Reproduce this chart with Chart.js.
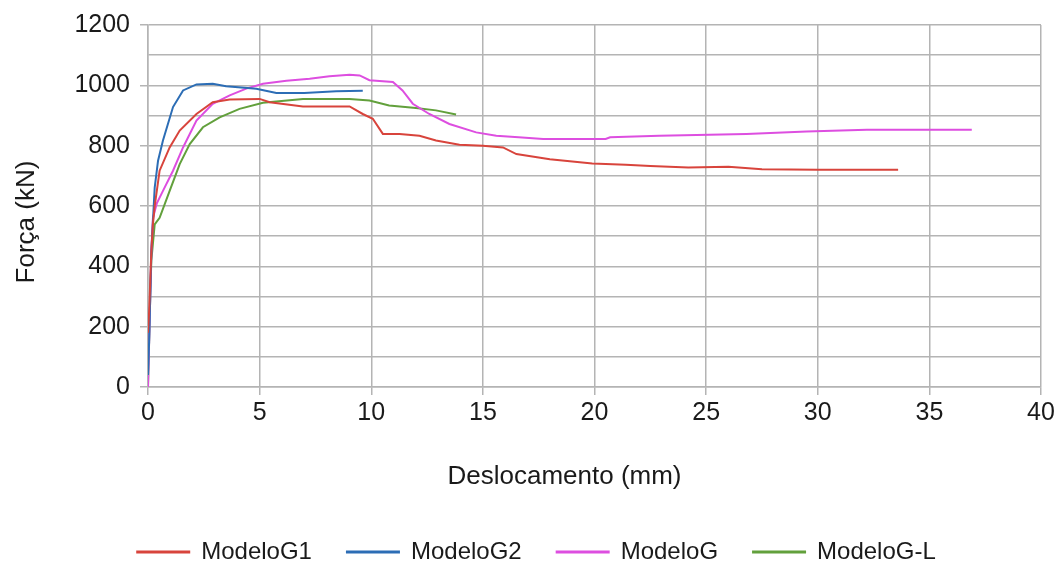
<!DOCTYPE html>
<html>
<head>
<meta charset="utf-8">
<script src="https://cdn.jsdelivr.net/npm/chart.js@4"></script>
<style>
html,body{margin:0;padding:0;background:#fff;}
#wrap{width:1058px;height:562px;}
</style>
</head>
<body>
<div id="wrap"><canvas id="c" width="1058" height="562"></canvas></div>
<script>
const seriesNames = ["ModeloG1", "ModeloG2", "ModeloG", "ModeloG-L"];
const seriesColors = ["#d8443c", "#2c6db5", "#dd4ee0", "#62a03c"];

const g1X = [0, 0.05, 0.1, 0.15, 0.22, 0.3, 0.52, 0.97, 1.42, 2.17, 2.9, 3.66, 5.0, 5.45, 6.94, 9.03, 9.62, 10.07, 10.52, 11.27, 12.16, 12.9, 13.95, 15.0, 15.9, 16.5, 18.0, 19.9, 21.4, 22.5, 24.2, 26.0, 27.5, 30.0, 33.6];
const g1Y = [180, 250, 350, 450, 539, 600, 717, 794, 850, 905, 944, 953, 955, 944, 930, 930, 905, 889, 839, 839, 833, 817, 803, 800, 794, 772, 755, 741, 737, 733, 728, 730, 722, 720, 720];

const g2X = [0, 0.05, 0.1, 0.15, 0.2, 0.3, 0.45, 0.67, 1.12, 1.57, 2.17, 2.9, 3.5, 4.85, 5.75, 7.0, 8.43, 9.62];
const g2Y = [40, 150, 300, 450, 520, 661, 750, 817, 928, 983, 1003, 1005, 997, 989, 975, 975, 980, 982];

const gX = [0, 0.05, 0.1, 0.15, 0.22, 0.4, 0.67, 1.12, 1.57, 2.17, 2.9, 3.66, 4.4, 5.15, 6.2, 7.24, 8.13, 9.03, 9.48, 9.92, 10.97, 11.4, 11.86, 12.6, 13.5, 14.7, 15.6, 16.6, 17.7, 20.5, 20.7, 22.9, 26.8, 29.5, 32.2, 36.9];
const gY = [0, 150, 300, 450, 560, 610, 650, 717, 794, 883, 939, 967, 989, 1005, 1015, 1022, 1030, 1035, 1033, 1017, 1011, 983, 939, 905, 872, 844, 833, 828, 822, 822, 828, 833, 839, 847, 853, 853];

const glX = [0, 0.05, 0.1, 0.15, 0.3, 0.52, 0.97, 1.42, 1.87, 2.46, 3.21, 4.1, 5.15, 6.94, 9.03, 9.92, 10.8, 12.0, 12.9, 13.8];
const glY = [0, 150, 300, 420, 539, 561, 650, 739, 805, 861, 894, 922, 942, 955, 955, 950, 933, 925, 917, 903];

const xTitle = "Deslocamento (mm)";
const yTitle = "Força (kN)";

const allX = [g1X, g2X, gX, glX];
const allY = [g1Y, g2Y, gY, glY];

const datasets = seriesNames.map((name, i) => ({
  label: name,
  data: allX[i].map((x, j) => ({x: x, y: allY[i][j]})),
  borderColor: seriesColors[i],
  backgroundColor: seriesColors[i],
  borderWidth: 2,
  pointRadius: 0,
  tension: 0,
  fill: false
}));

const FONT = "'Liberation Sans', Arial, sans-serif";
const TXT = "#1a1a1a";
const GRID = "#b4b4b4";

const legendShift = {
  id: 'legendShift',
  afterLayout(chart) {
    if (chart.legend) { chart.legend.left += 16; chart.legend.right += 16; }
  }
};

function shiftTitle(scale, dx, dy) {
  if (scale._titleShifted) return;
  const orig = scale.drawTitle;
  scale.drawTitle = function () {
    const ctx = this.ctx;
    ctx.save();
    ctx.translate(dx, dy);
    orig.apply(this, arguments);
    ctx.restore();
  };
  scale._titleShifted = true;
}

new Chart(document.getElementById('c'), {
  type: 'line',
  data: {datasets: datasets},
  plugins: [legendShift],
  options: {
    responsive: false,
    animation: false,
    layout: {padding: {top: 25, right: 17, bottom: -12, left: 0}},
    plugins: {
      tooltip: {enabled: false},
      legend: {
        position: 'bottom',
        labels: {
          boxWidth: 52, boxHeight: 1, padding: 35,
          color: TXT, font: {family: FONT, size: 24}
        }
      }
    },
    scales: {
      x: {
        type: 'linear', min: 0, max: 40,
        ticks: {stepSize: 5, color: TXT, font: {family: FONT, size: 25}, padding: 3, maxRotation: 0, autoSkip: false},
        grid: {color: GRID, lineWidth: 1.5, tickLength: 8, tickColor: GRID},
        border: {color: GRID, width: 1.5},
        title: {display: true, text: xTitle, color: TXT, font: {family: FONT, size: 26}, padding: {top: 0, bottom: 13}},
        afterFit: (s) => { s.height = 118; shiftTitle(s, -30, 0); }
      },
      y: {
        type: 'linear', min: 0, max: 1200,
        ticks: {stepSize: 100, color: TXT, font: {family: FONT, size: 25}, padding: 10, autoSkip: false,
          callback: (v) => (v % 200 === 0 ? v : '')},
        grid: {color: GRID, lineWidth: 1.5, tickLength: 8,
          tickColor: (ctx) => (ctx.tick && ctx.tick.value % 200 === 0 ? GRID : 'rgba(0,0,0,0)')},
        border: {color: GRID, width: 1.5},
        title: {display: true, text: yTitle, color: TXT, font: {family: FONT, size: 26}, padding: {top: 11, bottom: 0}},
        afterFit: (s) => { s.width = 148; shiftTitle(s, 0, 16); }
      }
    }
  }
});
</script>
</body>
</html>
